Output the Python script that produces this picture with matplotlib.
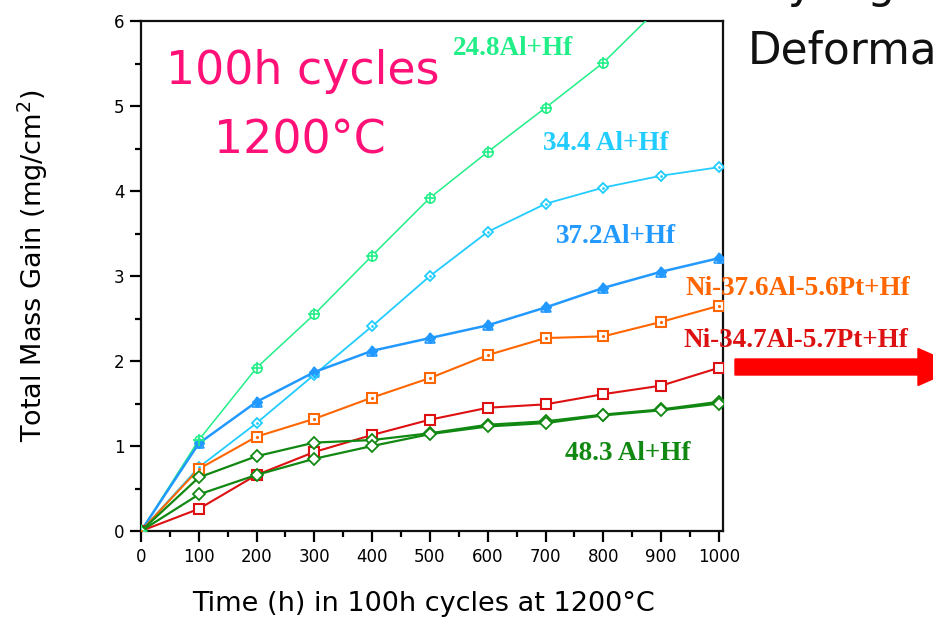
import matplotlib
matplotlib.use("Agg")
import matplotlib.pyplot as plt
from matplotlib.patches import FancyArrow

# Oxidation time in hours (100 h cycles)
hours = [0, 100, 200, 300, 400, 500, 600, 700, 800, 900, 1000]
hours_24 = [0, 100, 200, 300, 400, 500, 600, 700, 800, 900]

# Total mass gain, mg/cm2
gain_24_8 = [0, 1.07, 1.92, 2.55, 3.24, 3.92, 4.46, 4.98, 5.51, 6.18]
gain_34_4 = [0, 0.75, 1.27, 1.84, 2.41, 3.00, 3.52, 3.85, 4.04, 4.18, 4.28]
gain_37_2 = [0, 1.03, 1.52, 1.87, 2.12, 2.27, 2.42, 2.63, 2.86, 3.05, 3.21]
gain_pt_37_6 = [0, 0.73, 1.11, 1.32, 1.57, 1.80, 2.07, 2.27, 2.29, 2.46, 2.65]
gain_pt_34_7 = [0, 0.26, 0.66, 0.93, 1.13, 1.31, 1.45, 1.49, 1.61, 1.71, 1.92]
gain_48_3_a = [0, 0.63, 0.88, 1.04, 1.07, 1.15, 1.25, 1.29, 1.37, 1.43, 1.52]
gain_48_3_b = [0, 0.43, 0.66, 0.85, 1.00, 1.14, 1.23, 1.27, 1.36, 1.42, 1.50]

series_labels = ["24.8Al+Hf", "34.4 Al+Hf", "37.2Al+Hf",
                 "Ni-37.6Al-5.6Pt+Hf", "Ni-34.7Al-5.7Pt+Hf", "48.3 Al+Hf"]

c_mint = "#22ee88"
c_sky = "#22ccff"
c_blue = "#2299ff"
c_orange = "#ff6600"
c_red = "#dd1111"
c_green = "#118811"

W, H = 933, 619
fig = plt.figure(figsize=(W / 100, H / 100), dpi=100)
ax = fig.add_axes([141 / W, 1 - 531 / H, (723 - 141) / W, (531 - 21) / H])

ms = 6.5
# 24.8Al+Hf: circle with cross
ax.plot(hours_24, gain_24_8, color=c_mint, lw=1.1, marker="o", ms=ms,
        mfc="white", mec=c_mint, mew=1.2, zorder=3)
ax.plot(hours_24, gain_24_8, ls="none", marker="+", ms=ms + 2, mec=c_mint, mew=1.2, zorder=4)
# 34.4 Al+Hf: open diamond
ax.plot(hours, gain_34_4, color=c_sky, lw=1.3, marker="D", ms=ms - 1,
        mfc="white", mec=c_sky, mew=1.3, zorder=3)
ax.plot(hours, gain_34_4, ls="none", marker=".", ms=2, color=c_sky, zorder=4)
# 37.2Al+Hf: filled diamond with open triangle
ax.plot(hours, gain_37_2, color=c_blue, lw=1.8, marker="D", ms=ms - 1,
        mfc=c_blue, mec=c_blue, zorder=3)
ax.plot(hours, gain_37_2, ls="none", marker="^", ms=ms + 1, mfc="white",
        mec=c_blue, mew=1.2, zorder=2.9)
# Pt-modified alloys: open squares
ax.plot(hours, gain_pt_37_6, color=c_orange, lw=1.5, marker="s", ms=ms,
        mfc="white", mec=c_orange, mew=1.5, zorder=3)
ax.plot(hours, gain_pt_37_6, ls="none", marker=".", ms=2.5, color=c_orange, zorder=4)
ax.plot(hours, gain_pt_34_7, color=c_red, lw=1.5, marker="s", ms=ms,
        mfc="white", mec=c_red, mew=1.5, zorder=3)
# 48.3 Al+Hf: two samples, open diamonds
for g in (gain_48_3_a, gain_48_3_b):
    ax.plot(hours, g, color=c_green, lw=1.6, marker="D", ms=ms - 0.5,
            mfc="white", mec=c_green, mew=1.3, zorder=3.2)

ax.set_xlim(0, 1007)
ax.set_ylim(0, 6)
ax.set_xticks(hours)
ax.set_xticks(range(50, 1001, 100), minor=True)
ax.set_yticks(range(0, 7))
ax.set_yticks([0.5, 1.5, 2.5, 3.5, 4.5, 5.5], minor=True)
ax.tick_params(which="major", direction="out", length=8, width=1.6,
               labelsize=12, pad=4)
ax.tick_params(which="minor", direction="out", length=4, width=1.6)
ax.tick_params(top=False, right=False)
for s in ax.spines.values():
    s.set_linewidth(1.6)
    s.set_color("#111111")

fig.text(423 / W, 1 - 604 / H, "Time (h) in 100h cycles at 1200°C",
         fontsize=19.5, ha="center", va="center")
fig.text(33 / W, 1 - 266 / H, "Total Mass Gain (mg/cm$^2$)",
         fontsize=19.5, ha="center", va="center", rotation=90)

# Test conditions
fig.text(303 / W, 1 - 72 / H, "100h cycles", fontsize=33,
         color="#ff1177", va="center", ha="center")
fig.text(300 / W, 1 - 141 / H, "1200°C", fontsize=33,
         color="#ff1177", va="center", ha="center")

serif = ["Liberation Serif", "DejaVu Serif"]


def lab(xpix, ypix, txt, color):
    fig.text(xpix / W, 1 - ypix / H, txt, fontsize=19.5, fontweight="bold",
             family=serif, color=color, ha="left", va="baseline", zorder=5)


lab(453, 55, series_labels[0], c_mint)
lab(543, 150, series_labels[1], c_sky)
lab(556, 243, series_labels[2], c_blue)
lab(685, 295, series_labels[3], c_orange)
lab(683, 347, series_labels[4], c_red)
lab(565, 460, series_labels[5], c_green)

# Red arrow pointing off to the right
arrow = FancyArrow(735 / W, 1 - 367 / H, (960 - 735) / W, 0,
                   width=16 / H, head_width=37 / H, head_length=42 / W,
                   length_includes_head=True, color="#ff0000",
                   transform=fig.transFigure, figure=fig)
fig.patches.append(arrow)

# Slide heading text running into the figure
fig.text(748 / W, 1 - 63 / H, "Deformation", fontsize=31.5, color="#111111",
         ha="left", va="baseline")
fig.text(760 / W, 1 + 2 / H, "by high", fontsize=31.5, color="#111111",
         ha="left", va="baseline")

fig.savefig("out.png", dpi=100)
